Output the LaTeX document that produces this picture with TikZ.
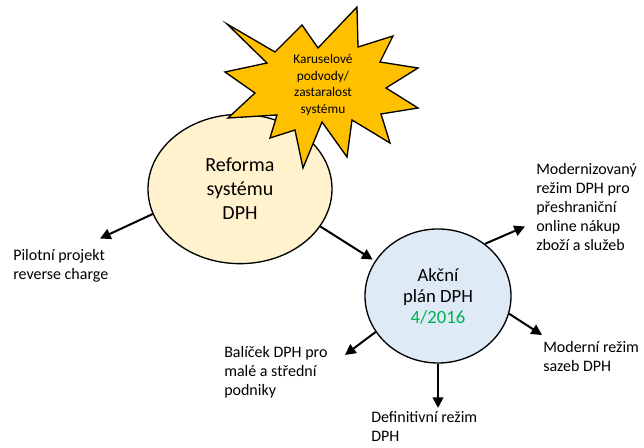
\documentclass[tikz,border=0pt]{standalone}
\usepackage{fontspec}
\setmainfont{Carlito}
\usetikzlibrary{arrows.meta,calc,shapes.geometric}
\definecolor{burstfill}{HTML}{FFC000}
\definecolor{reformafill}{HTML}{FFF2CC}
\definecolor{akcnifill}{HTML}{DEEBF7}
\definecolor{datumgreen}{HTML}{00B050}
\tikzset{
  arr/.style={line width=1.5pt,-{Triangle[length=8pt,width=8pt]}},
  lbl/.style={anchor=west,align=left,inner sep=0pt,font=\fontsize{12}{14.25}\selectfont},
  bubble/.style={ellipse,draw,line width=1pt,inner sep=0pt,align=center},
}
\begin{document}
\begin{tikzpicture}[x=0.75pt,y=-0.75pt]
\useasboundingbox (0,0) rectangle (644,448);

\node[bubble,fill=reformafill,minimum width=138pt,minimum height=112pt,
  font=\fontsize{15}{18}\selectfont] (reforma) at (240,189) {Reforma\\systému\\DPH};

% vybuch
\draw[line width=1pt,fill=burstfill] (357,7) -- (358,47) -- (393,36) -- (380,62)
  -- (418,68) -- (386,88) -- (418,108) -- (381,114) -- (390,143) -- (352,120)
  -- (347,157) -- (322,122) -- (303,168) -- (295,130) -- (270,138) -- (277,115)
  -- (228,118) -- (255,93) -- (225,72) -- (267,63) -- (227,24) -- (275,52)
  -- (302,25) -- (318,48) -- cycle;
\node[align=center,inner sep=0pt,font=\fontsize{10}{12.4}\selectfont] (burst) at (323,85)
  {Karuselové\\podvody/\\zastaralost\\systému};

\node[bubble,fill=akcnifill,minimum width=109.5pt,minimum height=100.5pt,
  font=\fontsize{14}{15.75}\selectfont] (akcni) at (438,296)
  {Akční\\plán DPH\\\textcolor{datumgreen}{4/2016}};

\node[lbl] (pilot) at (13,265.5) {Pilotní projekt\\reverse charge};
\node[lbl] (modern) at (536,207.5) {Modernizovaný\\režim DPH pro\\přeshraniční\\online nákup\\zboží a služeb};
\node[lbl] (sazby) at (543,357) {Moderní režim\\sazeb DPH};
\node[lbl] (balicek) at (224,372) {Balíček DPH pro\\malé a střední\\podniky};
\node[lbl] (definitivni) at (371,426) {Definitivní režim\\DPH};

\draw[arr] (reforma.196) -- ($(pilot.west)+(87,-27)$);
\draw[arr,shorten >=2pt] (reforma.335) -- (akcni.151);
\draw[arr] (akcni.48) -- ($(modern.west)+(-11,19)$);
\draw[arr] (akcni.346) -- ($(sazby.west)+(-1,-22)$);
\draw[arr] (akcni.210) -- ($(balicek.west)+(121,-17)$);
\draw[arr] (akcni.south) -- ($(definitivni.west)+(67,-18)$);
\end{tikzpicture}
\end{document}
